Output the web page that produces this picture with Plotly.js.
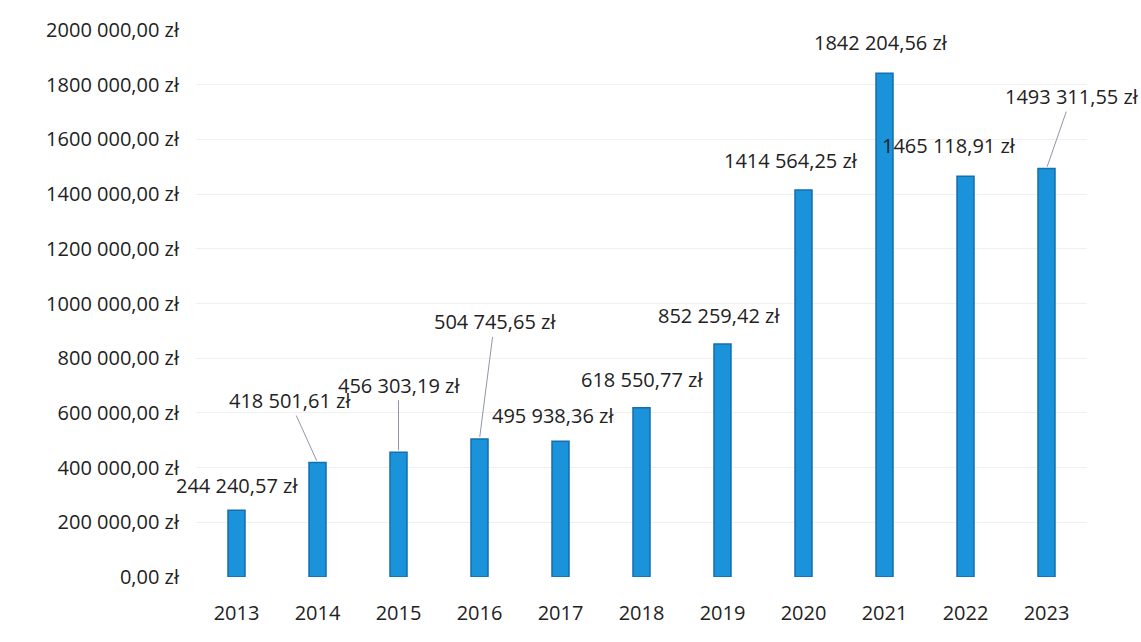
<!DOCTYPE html>
<html>
<head>
<meta charset="utf-8">
<script src="https://cdn.plot.ly/plotly-3.0.1.min.js"></script>
<style>html,body{margin:0;padding:0;background:#fff;}#chart{width:1141px;height:642px;}</style>
</head>
<body>
<div id="chart"></div>
<script>
const years = ['2013','2014','2015','2016','2017','2018','2019','2020','2021','2022','2023'];
const values = [244240.57, 418501.61, 456303.19, 504745.65, 495938.36, 618550.77, 852259.42, 1414564.25, 1842204.56, 1465118.91, 1493311.55];
const valueLabels = ['244 240,57 zł','418 501,61 zł','456 303,19 zł','504 745,65 zł','495 938,36 zł','618 550,77 zł','852 259,42 zł','1414 564,25 zł','1842 204,56 zł','1465 118,91 zł','1493 311,55 zł'];
const yTickVals = [0,200000,400000,600000,800000,1000000,1200000,1400000,1600000,1800000,2000000];
const yTickText = ['0,00 zł','200 000,00 zł','400 000,00 zł','600 000,00 zł','800 000,00 zł','1000 000,00 zł','1200 000,00 zł','1400 000,00 zł','1600 000,00 zł','1800 000,00 zł','2000 000,00 zł'];

// label placement (pixel offsets) - leader: [ax, ay] or null; shift: [xshift, yshift]
const leaders = [null,[-28,-62],[0,-67],[15,-117],null,null,null,null,null,null,[25,-72]];
const shifts = [[0,25],[0,0],[0,0],[0,0],[-8,26],[0,28],[-4,28],[-13,30],[-4,31],[-17,31],[0,0]];

const font = 'Open Sans, Noto Sans, sans-serif';
const annotations = years.map((y,i)=>{
  const base = {xref:'x', yref:'y', x:i, y:values[i], text:valueLabels[i], font:{family:font,size:20,color:'#222'}};
  if (leaders[i]) {
    return Object.assign(base,{showarrow:true, arrowhead:0, arrowwidth:1, arrowcolor:'#8f96a8', ax:leaders[i][0], ay:leaders[i][1], standoff:2});
  }
  return Object.assign(base,{showarrow:false, xshift:shifts[i][0], yshift:shifts[i][1]});
});

const trace = {
  type:'bar', x:years, y:values,
  marker:{color:'#1b93da', line:{color:'#156fae', width:1.5}},
  hoverinfo:'none'
};

const layout = {
  width:1141, height:642,
  margin:{l:196, r:54, t:30, b:65},
  paper_bgcolor:'#fff', plot_bgcolor:'#fff',
  bargap:0.79,
  showlegend:false,
  xaxis:{type:'category', range:[-0.5,10.5], tickfont:{family:font,size:20,color:'#222'}, showgrid:false, zeroline:false, showline:false, ticks:'', ticklabelstandoff:22},
  yaxis:{range:[0,2000000], tickvals:yTickVals, ticktext:yTickText, tickfont:{family:font,size:20,color:'#222'}, gridcolor:'#f0f0f0', zeroline:false, showline:false, ticks:'', ticklabelstandoff:16},
  annotations:annotations
};

Plotly.newPlot('chart',[trace],layout,{displayModeBar:false,staticPlot:true});
</script>
</body>
</html>
